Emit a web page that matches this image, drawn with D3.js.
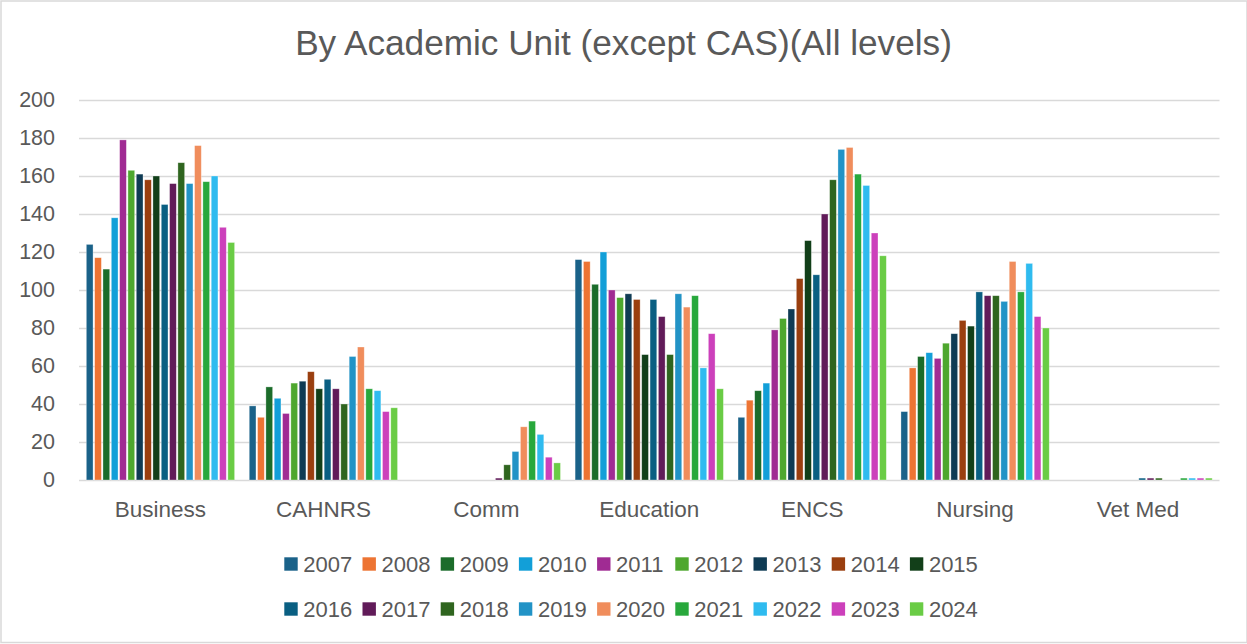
<!DOCTYPE html>
<html>
<head>
<meta charset="utf-8">
<script src="https://cdn.jsdelivr.net/npm/d3@7"></script>
<style>
  html, body { margin: 0; padding: 0; background: #fff; }
  svg { display: block; font-family: "Liberation Sans", Arial, sans-serif; }
</style>
</head>
<body>
<svg id="chart" width="1247" height="644"></svg>
<script>
const title = "By Academic Unit (except CAS)(All levels)";
const categories = ["Business", "CAHNRS", "Comm", "Education", "ENCS", "Nursing", "Vet Med"];
const years = ["2007","2008","2009","2010","2011","2012","2013","2014","2015","2016","2017","2018","2019","2020","2021","2022","2023","2024"];
const yearColors = ["#1a6289","#ed7433","#1b6c2a","#129fd8","#a02b93","#4ea72e","#0f3b54","#9a3f0f","#123f19","#0a5f82","#611b59","#2f651f","#2293c6","#f08d5c","#28a83c","#2fbbef","#cc40bb","#6acc45"];
const yTicks = [0, 20, 40, 60, 80, 100, 120, 140, 160, 180, 200];

const business  = [124,117,111,138,179,163,161,158,160,145,156,167,156,176,157,160,133,125];
const cahnrs    = [39,33,49,43,35,51,52,57,48,53,48,40,65,70,48,47,36,38];
const comm      = [0,0,0,0,0,0,0,0,0,0,1,8,15,28,31,24,12,9];
const education = [116,115,103,120,100,96,98,95,66,95,86,66,98,91,97,59,77,48];
const encs      = [33,42,47,51,79,85,90,106,126,108,140,158,174,175,161,155,130,118];
const nursing   = [36,59,65,67,64,72,77,84,81,99,97,97,94,115,99,114,86,80];
const vetmed    = [0,0,0,0,0,0,0,0,0,1,1,1,0,0,1,1,1,1];

const seriesByCategory = [business, cahnrs, comm, education, encs, nursing, vetmed];

const svg = d3.select("#chart");
const textColor = "#595959";
const gridColor = "#d9d9d9";

// chart border
svg.append("rect")
  .attr("x", 1).attr("y", 1).attr("width", 1246).attr("height", 641.5)
  .attr("fill", "#fff").attr("stroke", gridColor).attr("stroke-width", 1.5);

const plot = { left: 79, right: 1219.5, top: 100, bottom: 480 };

const x0 = d3.scaleBand().domain(categories).range([plot.left, plot.right]).paddingInner(0.08).paddingOuter(0.04);
const x1 = d3.scaleBand().domain(years).range([0, x0.bandwidth()]).padding(0);
const y = d3.scaleLinear().domain([0, 200]).range([plot.bottom, plot.top]);
const color = d3.scaleOrdinal().domain(years).range(yearColors);

// gridlines + y labels via axis
const yAxis = d3.axisLeft(y).tickValues(yTicks).tickSize(-(plot.right - plot.left)).tickPadding(24);
const gy = svg.append("g").attr("transform", `translate(${plot.left},0)`).call(yAxis);
gy.select(".domain").remove();
gy.selectAll(".tick line").attr("stroke", gridColor).attr("stroke-width", 1.3);
gy.selectAll(".tick text").attr("fill", textColor).attr("font-size", 21.5)
  .attr("font-family", "Liberation Sans, Arial, sans-serif");

// bars
const groups = svg.append("g").selectAll("g")
  .data(categories.map((c, i) => ({ cat: c, vals: seriesByCategory[i] })))
  .join("g")
  .attr("transform", d => `translate(${x0(d.cat)},0)`);

groups.selectAll("rect")
  .data(d => d.vals.map((v, j) => ({ year: years[j], v })))
  .join("rect")
  .filter(d => d.v > 0)
  .attr("x", d => x1(d.year) + 0.8)
  .attr("width", x1.bandwidth() - 1.6)
  .attr("y", d => y(d.v))
  .attr("height", d => y(0) - y(d.v))
  .attr("fill", d => color(d.year))
  .attr("stroke", "rgba(255,255,255,0.45)")
  .attr("stroke-width", 0.7);

// x axis labels
const xAxis = d3.axisBottom(x0).tickSize(0).tickPadding(21.5);
const gx = svg.append("g").attr("transform", `translate(0,${plot.bottom})`).call(xAxis);
gx.select(".domain").remove();
gx.selectAll(".tick text").attr("fill", textColor).attr("font-size", 22.5)
  .attr("font-family", "Liberation Sans, Arial, sans-serif");

// title
const t = svg.append("text")
  .attr("x", 623.5).attr("y", 55)
  .attr("text-anchor", "middle")
  .attr("fill", textColor)
  .attr("font-size", 31)
  .text(title);
const tw = t.node().getComputedTextLength();
t.attr("font-size", 31 * 657 / tw);

// legend
const legendStartX = 284.3;
const legendStep = 78.2;
const rowY = [564, 609];
const perRow = 9;
const leg = svg.append("g").selectAll("g")
  .data(years)
  .join("g")
  .attr("transform", (d, i) => `translate(${legendStartX + (i % perRow) * legendStep},${rowY[Math.floor(i / perRow)]})`);
leg.append("rect")
  .attr("x", 0).attr("y", -6.7).attr("width", 13.4).attr("height", 13.4)
  .attr("fill", d => color(d));
leg.append("text")
  .attr("x", 19).attr("y", 7.5)
  .attr("fill", textColor)
  .attr("font-size", 22)
  .text(d => d);
</script>
</body>
</html>
